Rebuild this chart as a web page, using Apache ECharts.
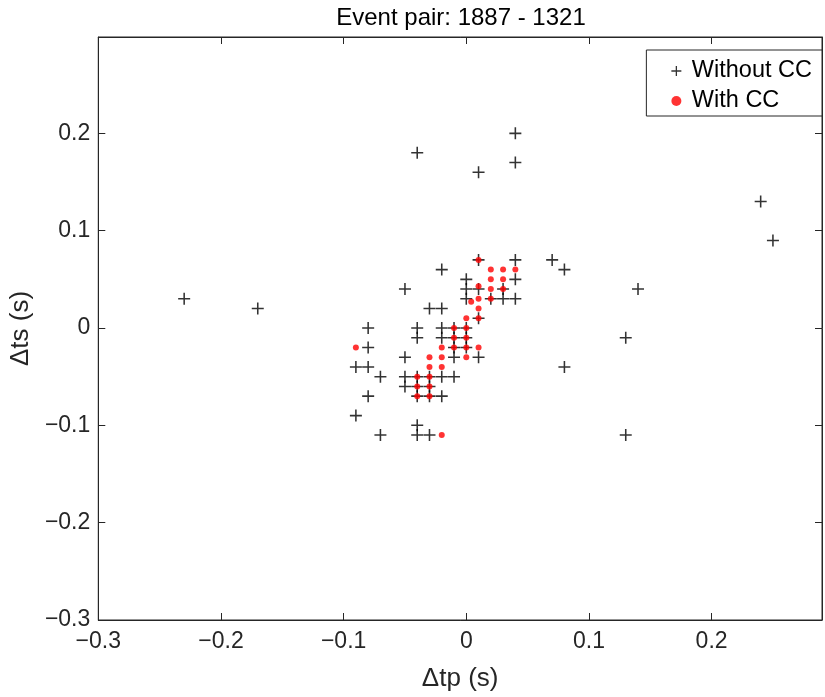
<!DOCTYPE html>
<html>
<head>
<meta charset="utf-8">
<script src="https://cdn.jsdelivr.net/npm/echarts@6/dist/echarts.min.js"></script>
<style>
html,body{margin:0;padding:0;background:#fff;}
#chart{width:825px;height:697px;}
</style>
</head>
<body>
<div id="chart"></div>
<script>
const chartTitle = 'Event pair: 1887 - 1321';
const seriesNames = ['Without CC', 'With CC'];
const xTicks = [-0.3, -0.2, -0.1, 0, 0.1, 0.2];
const yTicks = [-0.3, -0.2, -0.1, 0, 0.1, 0.2];

const withoutCC = [
  [-0.23,0.03],[-0.17,0.02],[-0.04,0.18],[0.01,0.16],[0.04,0.20],[0.04,0.17],
  [0.24,0.13],[0.25,0.09],[0.14,0.04],[0.07,0.07],[0.08,0.06],[0.08,-0.04],
  [0.13,-0.01],[0.13,-0.11],
  [0.01,0.07],[0.04,0.07],[-0.02,0.06],[0,0.05],[0.04,0.05],[-0.05,0.04],
  [0,0.04],[0.01,0.04],[0.03,0.04],[0,0.03],[0.02,0.03],[0.03,0.03],[0.04,0.03],
  [-0.03,0.02],[-0.02,0.02],[0.01,0.01],
  [-0.08,0],[-0.04,0],[-0.02,0],[-0.01,0],[0,0],
  [-0.04,-0.01],[-0.02,-0.01],[-0.01,-0.01],[0,-0.01],
  [-0.08,-0.02],[-0.01,-0.02],[0,-0.02],
  [-0.05,-0.03],[-0.01,-0.03],[0.01,-0.03],
  [-0.09,-0.04],[-0.08,-0.04],
  [-0.07,-0.05],[-0.05,-0.05],[-0.04,-0.05],[-0.03,-0.05],[-0.02,-0.05],[-0.01,-0.05],
  [-0.05,-0.06],[-0.04,-0.06],[-0.03,-0.06],
  [-0.08,-0.07],[-0.04,-0.07],[-0.03,-0.07],[-0.02,-0.07],
  [-0.09,-0.09],[-0.04,-0.10],[-0.07,-0.11],[-0.04,-0.11],[-0.03,-0.11]
];

const withCC = [
  [0.01,0.07],[0.02,0.06],[0.03,0.06],[0.04,0.06],[0.02,0.05],[0.03,0.05],
  [0.01,0.043],[0.02,0.04],[0.03,0.04],[0.004,0.027],[0.01,0.03],[0.02,0.03],
  [0.01,0.02],[0,0.01],[0.01,0.01],[-0.01,0],[0,0],[-0.01,-0.01],[0,-0.01],
  [-0.09,-0.02],[-0.02,-0.02],[-0.01,-0.02],[0,-0.02],[0.01,-0.02],
  [-0.03,-0.03],[-0.02,-0.03],[0,-0.03],[-0.03,-0.04],[-0.02,-0.04],
  [-0.04,-0.05],[-0.03,-0.05],[-0.04,-0.06],[-0.03,-0.06],[-0.04,-0.07],[-0.03,-0.07],
  [-0.02,-0.11]
];

const plusPath = 'path://M-0.13,-1H0.13V-0.13H1V0.13H0.13V1H-0.13V0.13H-1V-0.13H-0.13Z';
const axisColor = '#262626';
const font = 'Liberation Sans, Arial, Helvetica, sans-serif';

function fmt(v) {
  const r = Math.round(v * 10) / 10;
  if (Math.abs(v - r) > 1e-6) return '';
  if (xTicks.indexOf(r) < 0 && yTicks.indexOf(r) < 0) return '';
  if (r === 0) return '0';
  return String(r).replace('-', '\u2212');
}

const chart = echarts.init(document.getElementById('chart'));
const baseAxis = {
  type: 'value',
  interval: 0.1,
  axisLine: { show: true, onZero: false, lineStyle: { color: axisColor, width: 1 } },
  axisTick: { show: true, inside: true, length: 7, lineStyle: { color: axisColor, width: 1 } },
  splitLine: { show: false },
  axisLabel: { color: axisColor, fontSize: 23, fontFamily: font, formatter: fmt, margin: 8 },
  nameTextStyle: { color: axisColor, fontSize: 26, fontFamily: font }
};
chart.setOption({
  animation: false,
  backgroundColor: '#fff',
  title: {
    text: chartTitle,
    left: 461, top: 6, padding: 0, textAlign: 'center',
    textStyle: { color: '#000', fontSize: 24, fontWeight: 'normal', fontFamily: font }
  },
  legend: {
    data: [
      { name: seriesNames[0], icon: plusPath },
      { name: seriesNames[1], icon: 'circle' }
    ],
    orient: 'vertical',
    right: 3, top: 50,
    itemWidth: 21, itemHeight: 10, itemGap: 6,
    padding: [9, 10, 3, 25],
    borderColor: axisColor, borderWidth: 1, backgroundColor: '#fff',
    textStyle: { color: '#000', fontSize: 23.5, fontFamily: font }
  },
  grid: { left: 97, right: 2, top: 37, bottom: 76, show: true, borderColor: axisColor, borderWidth: 1, backgroundColor: 'transparent' },
  xAxis: [
    Object.assign({}, baseAxis, { min: -0.3, max: 0.29, position: 'bottom', name: 'Δtp (s)', nameLocation: 'middle', nameGap: 46,
      axisLabel: Object.assign({}, baseAxis.axisLabel, { margin: 10 }) }),
    Object.assign({}, baseAxis, { min: -0.3, max: 0.29, position: 'top', axisLabel: { show: false } })
  ],
  yAxis: [
    Object.assign({}, baseAxis, { min: -0.3, max: 0.299, position: 'left', name: 'Δts (s)', nameLocation: 'middle', nameGap: 51 }),
    Object.assign({}, baseAxis, { min: -0.3, max: 0.299, position: 'right', axisLabel: { show: false } })
  ],
  series: [
    {
      name: seriesNames[0], type: 'scatter', data: withoutCC,
      symbol: plusPath, symbolSize: 12,
      itemStyle: { color: '#000' }
    },
    {
      name: seriesNames[1], type: 'scatter', data: withCC,
      symbol: 'circle', symbolSize: 6,
      itemStyle: { color: '#ff0000' }
    }
  ]
});
</script>
</body>
</html>
